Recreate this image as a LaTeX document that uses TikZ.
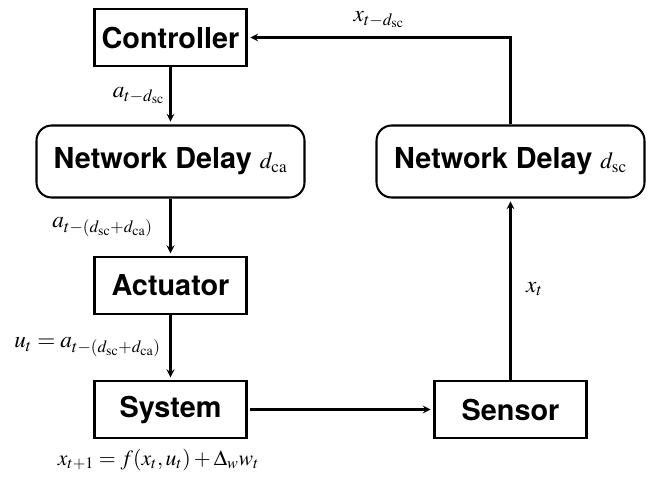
\documentclass[tikz,border=0pt]{standalone}
\usepackage{mathptmx}
\usepackage[no-math]{fontspec}
\setmainfont{TeX Gyre Heros}
\usetikzlibrary{positioning}
\usetikzlibrary{arrows}
\newcommand{\dlab}[1]{{\fontsize{16.5}{18}\selectfont\mdseries$d_{\mathrm{#1}}$}}
\tikzset{
    node distance=3.1cm, % Centre to centre distance between the blocks
    block/.style={ % Plain square blocks
        draw,
        line width=1.45pt,
        minimum width=3.8cm,
        minimum height=1.42cm,
        font=\fontsize{20.5}{24}\selectfont\bfseries
    },
    delay/.style={ % Rounded network blocks
        block,
        rounded corners=0.38cm,
        minimum width=6.7cm,
        minimum height=1.8cm
    },
    sig/.style={font=\fontsize{16.5}{19}\selectfont},
    every edge/.style={ % Signal arrows
        draw,
        ->,>=stealth,
        line width=1.45pt,
        shorten >=2pt
    }
}

\begin{document}
\begin{tikzpicture}
            \useasboundingbox (-4.2625,0.9375) rectangle (12.0875,-11.1375);
            \node[block] (ctrl) {Controller};
            \node[delay, below of=ctrl] (ndca) {Network Delay \dlab{ca}};
            \node[block, below of=ndca] (act) {Actuator};
            \node[block, below of=act] (sys) {System};
            \node[block, right of=sys, node distance=8.5cm] (sen) {Sensor};
            \node[delay, right of=ndca, node distance=8.5cm] (ndsc) {Network Delay \dlab{sc}};
            \node[sig, font=\fontsize{15.5}{18}\selectfont, below=0.12cm of sys, xshift=-0.3cm] (dyn) {$x_{t+1} = f(x_t, u_t) + \Delta_w w_t$};

            \draw (ctrl) edge node[sig, left] (la) {$a_{t-d_{\mathrm{sc}}}$} (ndca);
            \draw (ndca) edge node[sig, left, xshift=-0.3cm] (lb) {$a_{t-(d_{\mathrm{sc}}+d_{\mathrm{ca}})}$} (act);
            \draw (act) edge node[sig, left, xshift=-0.1cm] (lu) {$u_t = a_{t-(d_{\mathrm{sc}}+d_{\mathrm{ca}})}$} (sys);
            \draw (sys) edge[shorten <=2pt] (sen);
            \draw (sen) edge node[sig, right, xshift=0.25cm] (lx) {$x_t$} (ndsc);
            \draw[->,>=stealth, line width=1.45pt, shorten >=2pt] (ndsc.north) |- (ctrl.east)
                node[sig, pos=0.75, above, yshift=0.1cm] (lxd) {$x_{t-d_{\mathrm{sc}}}$};
        \end{tikzpicture}
\end{document}
